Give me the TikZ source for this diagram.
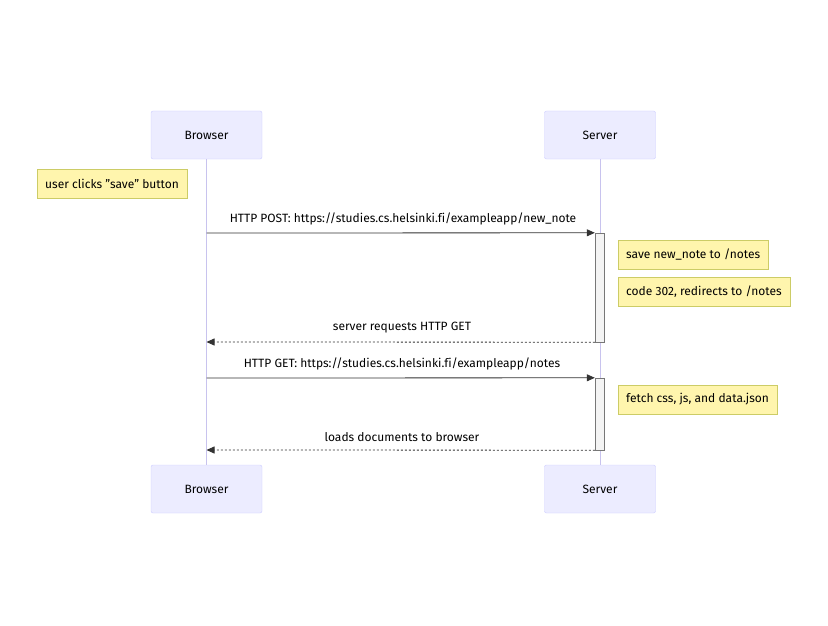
\documentclass[tikz,border=0pt]{standalone}
\usepackage{fontspec}
\setmainfont[Ligatures={NoCommon}]{Fira Sans}
\usetikzlibrary{arrows.meta}
\definecolor{actfill}{HTML}{ECECFF}
\definecolor{actborder}{HTML}{CCCCFF}
\definecolor{lifeline}{HTML}{C8C3EE}
\definecolor{notefill}{HTML}{FFF5AD}
\definecolor{noteborder}{HTML}{CCCC66}
\definecolor{actvfill}{HTML}{F4F4F4}
\definecolor{actvborder}{HTML}{777777}
\definecolor{msg}{HTML}{333333}
\tikzset{
  actor/.style={draw=actborder, fill=actfill, rounded corners=2pt, minimum width=111pt, minimum height=48pt, font=\fontsize{12}{14}\selectfont, inner sep=0pt},
  notebox/.style={draw=noteborder, fill=notefill, anchor=west, minimum height=29pt, inner xsep=8pt, inner ysep=0pt, font=\fontsize{12}{14}\selectfont},
  activation/.style={draw=actvborder, fill=actvfill, minimum width=9pt, inner sep=0pt},
  msgline/.style={draw=msg, line width=0.8pt, -{Triangle[length=8pt,width=7pt]}},
  reply/.style={msgline, dash pattern=on 2pt off 2pt},
  msglabel/.style={font=\fontsize{12}{14}\selectfont, text=black, inner sep=0pt},
  life/.style={draw=lifeline, line width=0.8pt}
}
\begin{document}
\begin{tikzpicture}[x=1pt,y=-1pt]
\useasboundingbox (0,0) rectangle (828,626);
% actors
\node[actor] (bt) at (206.5,135) {Browser};
\node[actor] (st) at (600,135) {Server};
\node[actor] (bb) at (206.5,489) {Browser};
\node[actor] (sb) at (600,489) {Server};
% lifelines
\draw[life] (bt.south) -- (bb.north);
\draw[life] (st.south) -- (sb.north);
% activations
\node[activation, minimum height=109pt] (a1) at (599.5,287.5) {};
\node[activation, minimum height=72pt] (a2) at (599.5,414) {};
% coordinates
\coordinate (b1) at (206.5,233);
\coordinate (b2) at (206.5,342);
\coordinate (b3) at (206.5,378);
\coordinate (b4) at (206.5,450);
% note
\node[notebox] (n0) at (37,183.5) {user clicks \char"22 save\char"22{} button};
% message 1
\draw[msgline] (b1) -- (a1.north west);
\node[msglabel] (l1) at (403,219) {HTTP POST: https://studies.cs.helsinki.f\kern0pt i/exampleapp/new\_note};
\node[notebox] (n1) at (618,254.5) {save new\_note to /notes};
\node[notebox] (n2) at (618,291.5) {code 302, redirects to /notes};
% message 2
\draw[reply] (a1.south west) -- (b2);
\node[msglabel] (l2) at (402,328) {server requests HTTP GET};
% message 3
\draw[msgline] (b3) -- (a2.north west);
\node[msglabel] (l3) at (402,364) {HTTP GET: https://studies.cs.helsinki.f\kern0pt i/exampleapp/notes};
\node[notebox] (n3) at (618,399.5) {fetch css, js, and data.json};
% message 4
\draw[reply] (a2.south west) -- (b4);
\node[msglabel] (l4) at (402,437) {loads documents to browser};
\end{tikzpicture}
\end{document}
